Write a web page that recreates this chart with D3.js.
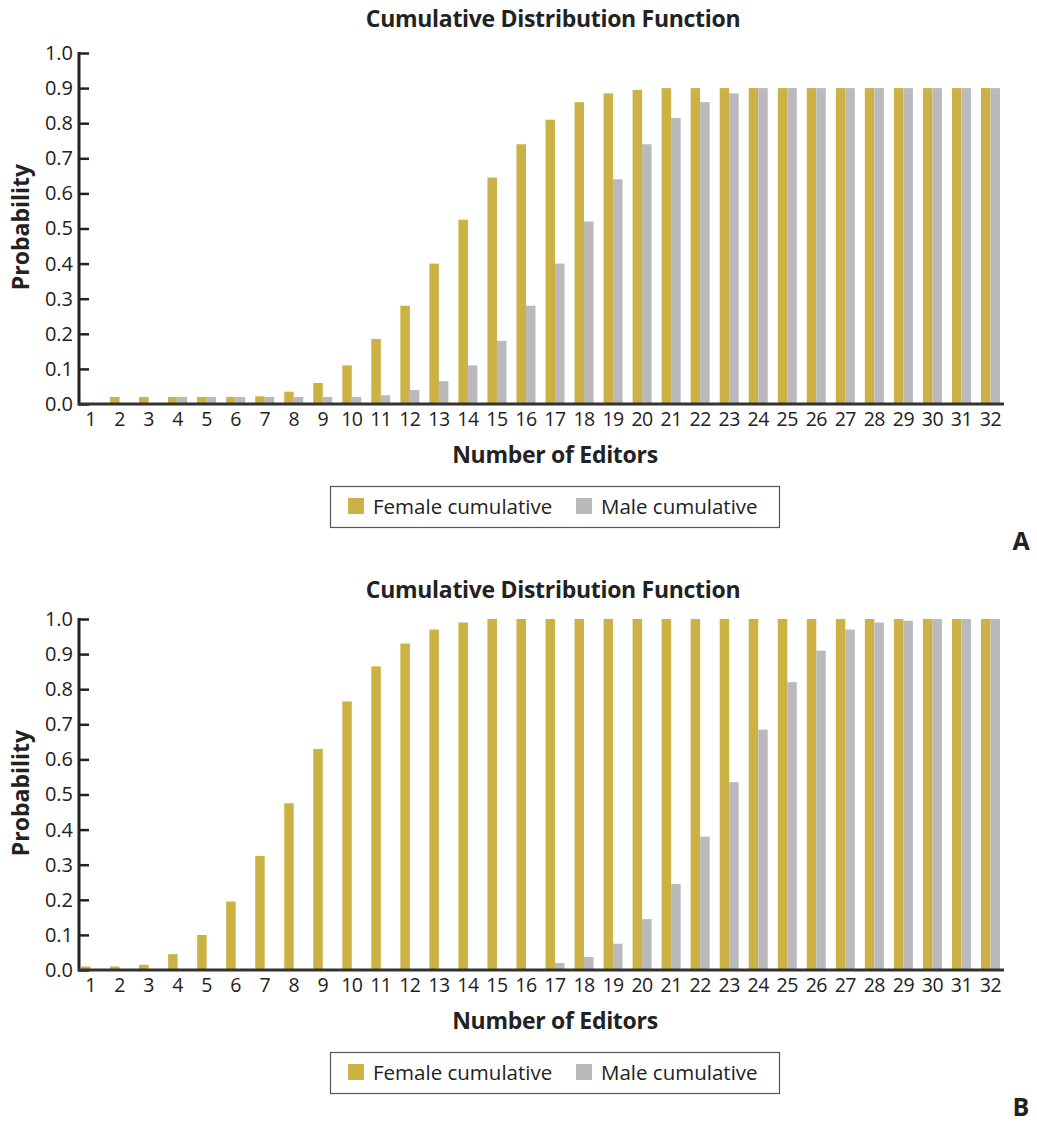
<!DOCTYPE html>
<html lang="en">
<head>
<meta charset="utf-8">
<title>Cumulative Distribution Function</title>
<script src="https://cdn.jsdelivr.net/npm/d3@7"></script>
<style>
  body { margin: 0; background: #fff; }
  svg text { font-family: "Open Sans", "Noto Sans", sans-serif; fill: #222; }
</style>
</head>
<body>
<script>
// editors 1..32
var editors = d3.range(1, 33);
var yTicks = [0, 0.1, 0.2, 0.3, 0.4, 0.5, 0.6, 0.7, 0.8, 0.9, 1.0];

// panel A
var femaleA = [0, 0.02, 0.02, 0.02, 0.02, 0.02, 0.022, 0.035, 0.06, 0.11, 0.185, 0.28, 0.40, 0.525, 0.645, 0.74,
               0.81, 0.86, 0.885, 0.895, 0.90, 0.90, 0.90, 0.90, 0.90, 0.90, 0.90, 0.90, 0.90, 0.90, 0.90, 0.90];
var maleA = [0, 0, 0, 0.02, 0.02, 0.02, 0.02, 0.02, 0.02, 0.02, 0.025, 0.04, 0.065, 0.11, 0.18, 0.28,
             0.40, 0.52, 0.64, 0.74, 0.815, 0.86, 0.885, 0.90, 0.90, 0.90, 0.90, 0.90, 0.90, 0.90, 0.90, 0.90];

// panel B
var femaleB = [0.01, 0.01, 0.015, 0.045, 0.10, 0.195, 0.325, 0.475, 0.63, 0.765, 0.865, 0.93, 0.97, 0.99, 1, 1,
               1, 1, 1, 1, 1, 1, 1, 1, 1, 1, 1, 1, 1, 1, 1, 1];
var maleB = [0, 0, 0, 0, 0, 0, 0, 0, 0, 0.003, 0.003, 0, 0, 0, 0, 0.003,
             0.02, 0.037, 0.075, 0.145, 0.245, 0.38, 0.535, 0.685, 0.82, 0.91, 0.97, 0.99, 0.995, 1, 1, 1];

var seriesNames = ["Female cumulative", "Male cumulative"];
var colors = ["#ccb144", "#bababc"];

var w = 1037, h = 1125;
var svg = d3.select("body").append("svg").attr("width", w).attr("height", h);

function drawPanel(top, yZero, female, male, letter) {
  var g = svg.append("g");
  var x = d3.scaleBand().domain(editors).range([76, 1005]);
  var y = d3.scaleLinear().domain([0, 1]).range([yZero, yZero - 351]);
  var bw = 9.5;

  g.append("text").attr("x", 553).attr("y", top)
    .attr("text-anchor", "middle").attr("font-size", 23).attr("font-weight", "bold")
    .attr("letter-spacing", -0.3)
    .text("Cumulative Distribution Function");

  var rows = editors.map(function(e, i) { return {e: e, f: female[i], m: male[i]}; });

  g.selectAll("rect.f").data(rows).enter().append("rect")
    .attr("x", function(d) { return x(d.e) + x.bandwidth() / 2 - bw; })
    .attr("y", function(d) { return y(d.f); })
    .attr("width", bw)
    .attr("height", function(d) { return yZero - y(d.f); })
    .attr("fill", colors[0]);

  g.selectAll("rect.m").data(rows).enter().append("rect")
    .attr("x", function(d) { return x(d.e) + x.bandwidth() / 2; })
    .attr("y", function(d) { return y(d.m); })
    .attr("width", bw)
    .attr("height", function(d) { return yZero - y(d.m); })
    .attr("fill", colors[1]);

  // y axis, ticks pointing inward
  var yAxis = g.append("g").attr("transform", "translate(79,0)")
    .call(d3.axisRight(y).tickValues(yTicks).tickSize(10).tickFormat(d3.format(".1f")));
  yAxis.select(".domain").remove();
  yAxis.selectAll(".tick line").attr("stroke", "#222").attr("stroke-width", 2.5);
  yAxis.selectAll(".tick text").attr("x", -6).attr("text-anchor", "end")
    .attr("font-size", 20).attr("fill", "#333");
  g.append("line").attr("x1", 79).attr("x2", 79).attr("y1", y(1) - 1).attr("y2", yZero + 1.5)
    .attr("stroke", "#222").attr("stroke-width", 3);

  // x axis
  var xAxis = g.append("g").attr("transform", "translate(0," + yZero + ")")
    .call(d3.axisBottom(x).tickSize(0).tickPadding(8));
  xAxis.select(".domain").remove();
  xAxis.selectAll(".tick text").attr("font-size", 19.5).attr("fill", "#333").attr("letter-spacing", -0.5);
  g.append("line").attr("x1", 78).attr("x2", 1004).attr("y1", yZero).attr("y2", yZero)
    .attr("stroke", "#333").attr("stroke-width", 3);

  g.append("text").attr("x", 555).attr("y", yZero + 59)
    .attr("text-anchor", "middle").attr("font-size", 23).attr("font-weight", "bold")
    .attr("letter-spacing", -0.3)
    .text("Number of Editors");

  g.append("text").attr("transform", "translate(29," + (yZero - 177) + ") rotate(-90)")
    .attr("text-anchor", "middle").attr("font-size", 23).attr("font-weight", "bold")
    .text("Probability");

  // legend
  var ly = yZero + 82;
  g.append("rect").attr("x", 330.5).attr("y", ly + 0.5).attr("width", 449).attr("height", 41)
    .attr("fill", "#fff").attr("stroke", "#555").attr("stroke-width", 1.2);
  var items = [{n: seriesNames[0], c: colors[0], x: 348}, {n: seriesNames[1], c: colors[1], x: 576}];
  items.forEach(function(it) {
    g.append("rect").attr("x", it.x).attr("y", ly + 12).attr("width", 16).attr("height", 16).attr("fill", it.c);
    g.append("text").attr("x", it.x + 25).attr("y", ly + 28).attr("font-size", 20.5).attr("fill", "#333").text(it.n);
  });

  g.append("text").attr("x", 1021).attr("y", yZero + 146)
    .attr("text-anchor", "middle").attr("font-size", 25).attr("font-weight", "bold").text(letter);
}

drawPanel(27, 404, femaleA, maleA, "A");
drawPanel(598, 970, femaleB, maleB, "B");
</script>
</body>
</html>
